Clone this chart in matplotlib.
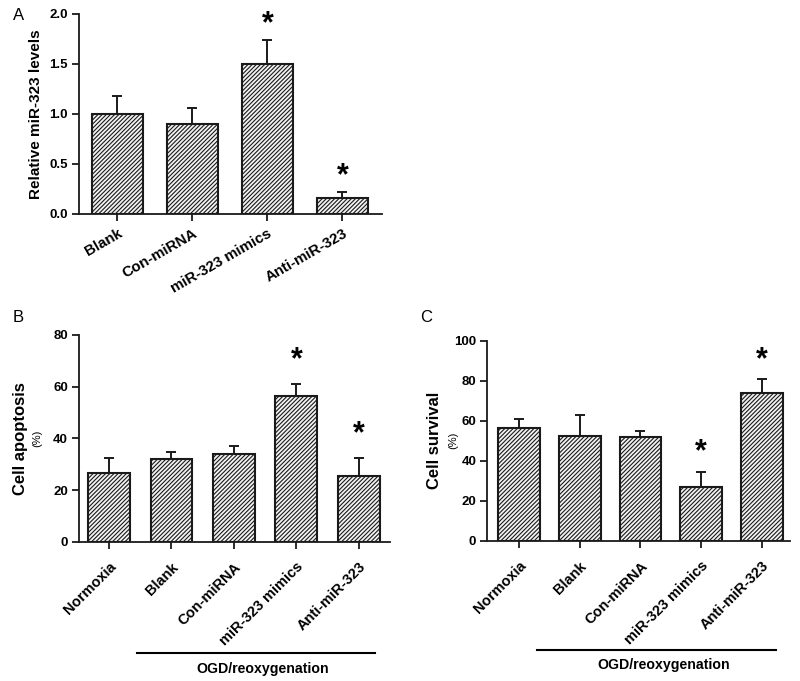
import matplotlib
matplotlib.use("Agg")
import matplotlib.pyplot as plt
import matplotlib.transforms as mtransforms

plt.rcParams['font.family'] = ['Liberation Sans', 'DejaVu Sans']
plt.rcParams['hatch.linewidth'] = 0.8
plt.rcParams['hatch.color'] = '#3a3a3a'

# ---- data ----
a_labels = ["Blank", "Con-miRNA", "miR-323 mimics", "Anti-miR-323"]
a_values = [1.00, 0.90, 1.50, 0.16]
a_errors = [0.18, 0.16, 0.24, 0.06]
a_star = [False, False, True, True]

b_labels = ["Normoxia", "Blank", "Con-miRNA", "miR-323 mimics", "Anti-miR-323"]
b_values = [26.5, 31.9, 33.8, 56.4, 25.5]
b_errors = [5.8, 2.7, 3.1, 4.5, 6.9]
b_star = [False, False, False, True, True]

c_labels = ["Normoxia", "Blank", "Con-miRNA", "miR-323 mimics", "Anti-miR-323"]
c_values = [56.3, 52.3, 52.0, 27.0, 73.7]
c_errors = [4.4, 10.4, 2.8, 7.5, 7.0]
c_star = [False, False, False, True, True]

W, H = 800, 681
fig = plt.figure(figsize=(W / 100, H / 100), dpi=100)


def px_axes(left, top, right, bottom):
    return fig.add_axes([left / W, 1 - bottom / H, (right - left) / W, (bottom - top) / H])


def draw(ax, labels, values, errors, stars, ylim, yticks, fmt, xlim, width,
         rot, star_off, label_size, xpad):
    x = list(range(len(values)))
    ax.bar(x, values, width=width, color='#f2f2f2', edgecolor='#1a1a1a',
           linewidth=1.5, hatch='////////', zorder=2)
    ax.errorbar(x, values, yerr=[[0] * len(errors), errors], fmt='none',
                ecolor='#1a1a1a', elinewidth=1.4, capsize=3.5, capthick=1.4, zorder=1)
    for xi, v, e, s in zip(x, values, errors, stars):
        if s:
            ax.annotate('*', xy=(xi, v + e), xytext=(0, star_off),
                        textcoords='offset points', ha='center', va='center',
                        fontsize=22, fontweight='bold')
    ax.set_xlim(*xlim)
    ax.set_ylim(*ylim)
    ax.set_yticks(yticks)
    ax.set_yticklabels([fmt.format(t) for t in yticks], fontsize=9.5, fontweight='bold')
    ax.set_xticks(x)
    ax.set_xticklabels(labels, rotation=rot, ha='right', rotation_mode='anchor',
                       fontsize=label_size, fontweight='bold')
    for sp in ['top', 'right']:
        ax.spines[sp].set_visible(False)
    for sp in ['left', 'bottom']:
        ax.spines[sp].set_linewidth(1.3)
        ax.spines[sp].set_color('#1a1a1a')
    ax.tick_params(axis='both', direction='out', length=5, width=1.3, color='#1a1a1a', pad=3)
    ax.tick_params(axis='x', pad=xpad)


# Panel A
axA = px_axes(79, 14, 382, 214)
draw(axA, a_labels, a_values, a_errors, a_star, (0, 2.0), [0, 0.5, 1.0, 1.5, 2.0],
     '{:.1f}', (-0.513, 3.527), 0.68, 30, 11, 10.8, 4)
axA.set_ylabel('Relative miR-323 levels', fontsize=11, fontweight='bold')
axA.yaxis.set_label_coords(-0.119, 0.5)

# Panel B
axB = px_axes(79, 335, 390, 541.7)
draw(axB, b_labels, b_values, b_errors, b_star, (0, 80), [0, 20, 40, 60, 80],
     '{:.0f}', (-0.48, 4.5), 0.67, 45, 17, 10.5, 8)
axB.set_ylabel('Cell apoptosis', fontsize=12, fontweight='bold')
axB.yaxis.set_label_coords(-0.164, 0.5)

# Panel C
axC = px_axes(487.3, 340.7, 790, 540.7)
draw(axC, c_labels, c_values, c_errors, c_star, (0, 100), [0, 20, 40, 60, 80, 100],
     '{:.0f}', (-0.52, 4.46), 0.69, 45, 14, 10.5, 8)
axC.set_ylabel('Cell survival', fontsize=12, fontweight='bold')
axC.yaxis.set_label_coords(-0.15, 0.5)

# (%) sub labels and OGD bracket
for ax, ylab_x, line_x0, line_x1, line_y, txt_dx, txt_y in [
        (axB, -0.135, 0.45, 4.26, -0.537, 0.11, -0.616),
        (axC, -0.113, 0.30, 4.23, -0.547, 0.11, -0.622)]:
    ax.text(ylab_x, 0.5, '(%)', transform=ax.transAxes, rotation=90,
            ha='center', va='center', fontsize=8)
    tr = mtransforms.blended_transform_factory(ax.transData, ax.transAxes)
    ax.plot([line_x0, line_x1], [line_y, line_y], color='black', lw=1.5,
            transform=tr, clip_on=False)
    ax.text((line_x0 + line_x1) / 2 + txt_dx, txt_y, 'OGD/reoxygenation', transform=tr,
            ha='center', va='center', fontsize=10.2, fontweight='bold')

# panel letters
fig.text(13 / W, 1 - 15 / H, 'A', fontsize=12, ha='left', va='center')
fig.text(13 / W, 1 - 317 / H, 'B', fontsize=12, ha='left', va='center')
fig.text(420 / W, 1 - 317 / H, 'C', fontsize=12, ha='left', va='center')

fig.savefig('out.png', dpi=100, facecolor='white')
